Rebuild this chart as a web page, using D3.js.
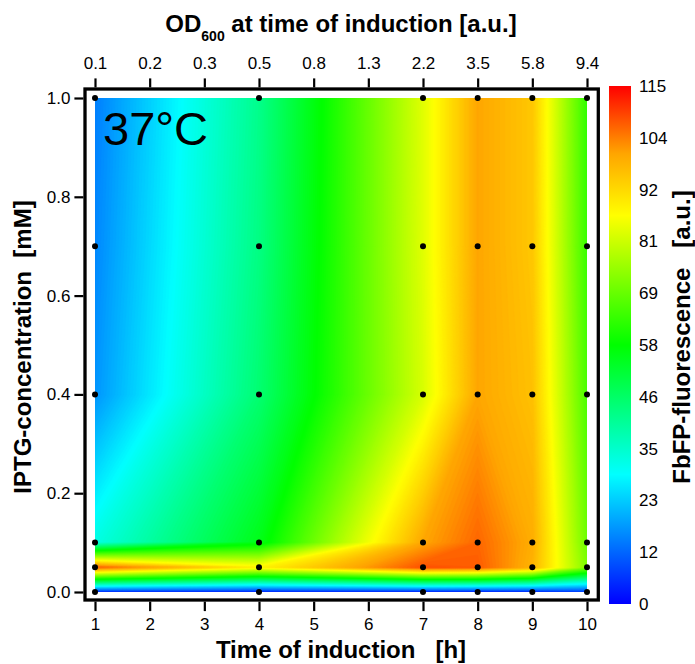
<!DOCTYPE html>
<html>
<head>
<meta charset="utf-8">
<script src="https://cdn.jsdelivr.net/npm/d3@7"></script>
<style>
  body { margin: 0; background: #fff; }
  svg { font-family: Arial, "Liberation Sans", sans-serif; }
</style>
</head>
<body>
<div id="chart"></div>
<script>
// measurement grid: induction times [h] and IPTG levels [mM]
const times = [1, 4, 7, 8, 9, 10];
const iptgLevels = [0, 0.05, 0.1, 0.4, 0.7, 1.0];

// FbFP fluorescence [a.u.] for each IPTG level, one value per induction time
const fbfp_0mM   = [3, 3, 2, 2, 3, 6];
const fbfp_005mM = [106, 88, 108, 107, 98, 72];
const fbfp_01mM  = [32, 55, 100, 106, 99, 70];
const fbfp_04mM  = [17, 45, 82, 100, 96, 66];
const fbfp_07mM  = [15.5, 43, 83, 100, 95, 64];
const fbfp_1mM   = [14.5, 42, 83, 100, 95, 63];

// axis ticks
const timeTicks = [1, 2, 3, 4, 5, 6, 7, 8, 9, 10];
const odLabels = ["0.1", "0.2", "0.3", "0.5", "0.8", "1.3", "2.2", "3.5", "5.8", "9.4"];
const iptgTicks = [0, 0.2, 0.4, 0.6, 0.8, 1.0];
const colorTicks = [0, 11.5, 23, 34.5, 46, 57.5, 69, 80.5, 92, 103.5, 115];
const colorTickLabels = ["0", "12", "23", "35", "46", "58", "69", "81", "92", "104", "115"];

const W = 695, H = 664;
const svg = d3.select('#chart').append('svg')
    .attr('width', W)
    .attr('height', H);

// data area and scales
const x = d3.scaleLinear().domain([1, 10]).range([95, 587]);
const y = d3.scaleLinear().domain([0, 1]).range([592, 98]);

const color = d3.scaleLinear()
    .domain([0, 28.75, 57.5, 86.25, 100, 115])
    .range(["#0000ff", "#00ffff", "#00ff00", "#ffff00", "#ffa500", "#ff0000"]);

// filled contours of the measured grid
const rows = [fbfp_0mM, fbfp_005mM, fbfp_01mM, fbfp_04mM, fbfp_07mM, fbfp_1mM];
const grid = rows.flat();
const nx = times.length, ny = iptgLevels.length;
const contours = d3.contours()
    .size([nx, ny])
    .thresholds(d3.range(0, 115.5, 0.5))(grid);

// grid index -> data coordinates (non-uniform spacing)
const ix = d3.scaleLinear().domain(times.map((d, i) => i + 0.5)).range(times).clamp(true);
const iy = d3.scaleLinear().domain(iptgLevels.map((d, i) => i + 0.5)).range(iptgLevels).clamp(true);
const path = d3.geoPath(d3.geoTransform({
    point(px, py) { this.stream.point(x(ix(px)), y(iy(py))); }
}));

svg.append('clipPath').attr('id', 'clip')
    .append('rect')
    .attr('x', x(1)).attr('y', y(1))
    .attr('width', x(10) - x(1)).attr('height', y(0) - y(1));

svg.append('g')
    .attr('clip-path', 'url(#clip)')
    .selectAll('path')
    .data(contours)
    .enter()
    .append('path')
    .attr('d', path)
    .attr('fill', d => color(d.value))
    .attr('stroke', d => color(d.value))
    .attr('stroke-width', 0.5);

// measurement points
const points = [];
iptgLevels.forEach(c => times.forEach(t => points.push({t: t, c: c})));
svg.append('g')
    .selectAll('circle')
    .data(points)
    .enter()
    .append('circle')
    .attr('cx', d => x(d.t))
    .attr('cy', d => y(d.c))
    .attr('r', 3)
    .attr('fill', '#000');

// frame
const frame = {left: 85, right: 598.3, top: 89, bottom: 600};
svg.append('rect')
    .attr('x', frame.left).attr('y', frame.top)
    .attr('width', frame.right - frame.left)
    .attr('height', frame.bottom - frame.top)
    .attr('fill', 'none')
    .attr('stroke', '#000')
    .attr('stroke-width', 3.3);

function styleAxis(g) {
    g.select('.domain').remove();
    g.selectAll('.tick line').attr('stroke', '#000').attr('stroke-width', 2.2);
    g.selectAll('.tick text')
        .attr('fill', '#000')
        .style('font-size', '17px')
        .style('font-family', 'Arial, "Liberation Sans", sans-serif');
}

svg.append('g')
    .attr('transform', `translate(0,${frame.bottom + 1.6})`)
    .call(d3.axisBottom(x).tickValues(timeTicks).tickFormat(d3.format('d'))
        .tickSizeInner(9.5).tickSizeOuter(0).tickPadding(6.5))
    .call(styleAxis);

svg.append('g')
    .attr('transform', `translate(0,${frame.top - 1.6})`)
    .call(d3.axisTop(x).tickValues(timeTicks).tickFormat((d, i) => odLabels[i])
        .tickSizeInner(9).tickSizeOuter(0).tickPadding(9))
    .call(styleAxis);

svg.append('g')
    .attr('transform', `translate(${frame.left - 1.6},0)`)
    .call(d3.axisLeft(y).tickValues(iptgTicks).tickFormat(d3.format('.1f'))
        .tickSizeInner(9).tickSizeOuter(0).tickPadding(4))
    .call(styleAxis);

// axis titles
svg.append('text')
    .attr('x', 341)
    .attr('y', 658)
    .attr('text-anchor', 'middle')
    .style('font-size', '24px')
    .style('font-weight', 'bold')
    .text('Time of induction\u00a0\u00a0\u00a0[h]');

const topTitle = svg.append('text')
    .attr('x', 341)
    .attr('y', 32)
    .attr('text-anchor', 'middle')
    .style('font-size', '24px')
    .style('font-weight', 'bold');
topTitle.append('tspan').text('OD');
topTitle.append('tspan').attr('dy', 8.5).style('font-size', '14px').text('600');
topTitle.append('tspan').attr('dy', -8.5).text(' at time of induction [a.u.]');

svg.append('text')
    .attr('transform', 'translate(30.5,347) rotate(-90)')
    .attr('text-anchor', 'middle')
    .style('font-size', '24px')
    .style('font-weight', 'bold')
    .text('IPTG-concentration\u00a0\u00a0[mM]');

// temperature label
svg.append('text')
    .attr('x', 103)
    .attr('y', 145)
    .style('font-size', '47px')
    .text('37°C');

// colour bar
const cbar = {x: 609, width: 22, top: 86, bottom: 604};
const cy = d3.scaleLinear().domain([0, 115]).range([cbar.bottom, cbar.top]);

const grad = svg.append('defs').append('linearGradient')
    .attr('id', 'cbar-grad')
    .attr('x1', 0).attr('y1', 1)
    .attr('x2', 0).attr('y2', 0);
grad.selectAll('stop')
    .data(color.domain())
    .enter()
    .append('stop')
    .attr('offset', d => d / 115)
    .attr('stop-color', d => color(d));

svg.append('rect')
    .attr('x', cbar.x).attr('y', cbar.top)
    .attr('width', cbar.width)
    .attr('height', cbar.bottom - cbar.top)
    .attr('fill', 'url(#cbar-grad)');

svg.append('g')
    .selectAll('text')
    .data(colorTicks)
    .enter()
    .append('text')
    .attr('x', 639)
    .attr('y', d => cy(d))
    .attr('dy', '0.35em')
    .style('font-size', '17px')
    .text((d, i) => colorTickLabels[i]);

svg.append('text')
    .attr('transform', 'translate(690,337) rotate(-90)')
    .attr('text-anchor', 'middle')
    .style('font-size', '24px')
    .style('font-weight', 'bold')
    .text('FbFP-fluorescence\u00a0\u00a0\u00a0[a.u.]');
</script>
</body>
</html>
